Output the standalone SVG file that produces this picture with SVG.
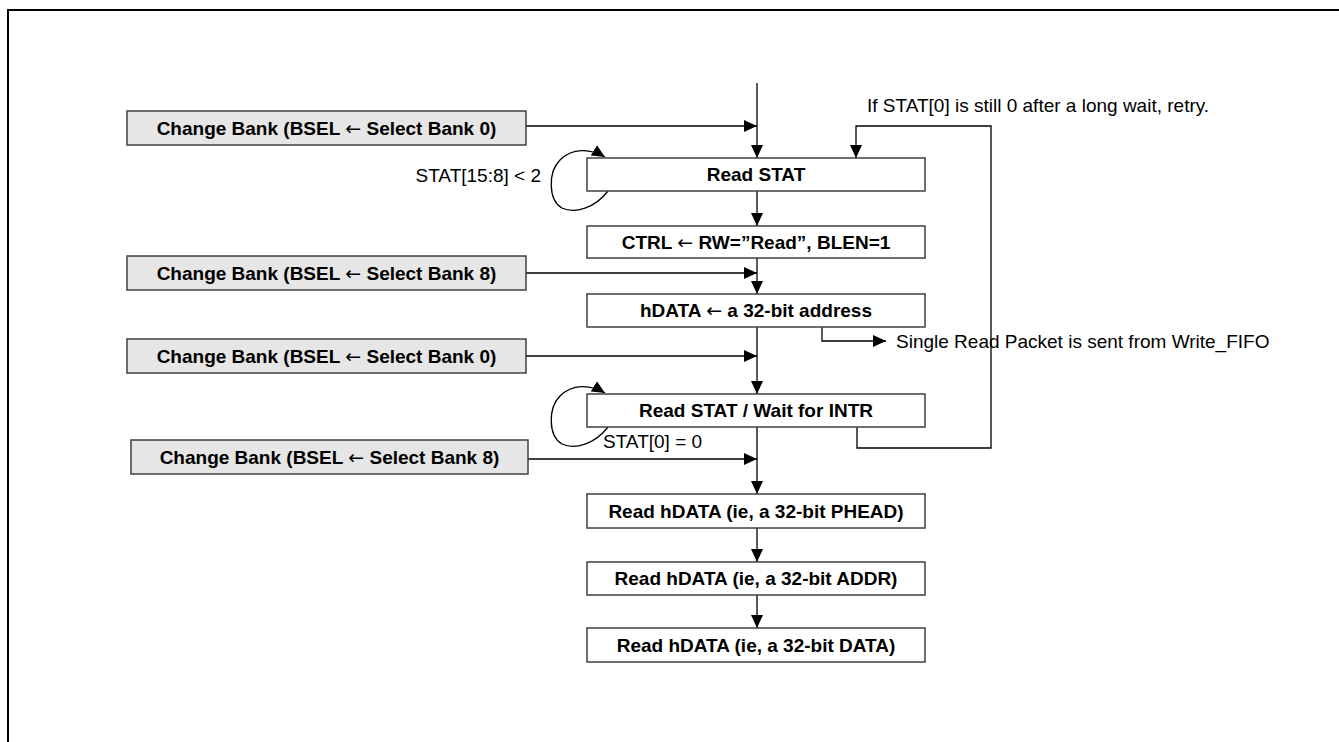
<svg xmlns="http://www.w3.org/2000/svg" width="1339" height="742" viewBox="0 0 1339 742">
<defs>
<marker id="ah" markerUnits="userSpaceOnUse" markerWidth="14" markerHeight="12" refX="13" refY="6" orient="auto"><path d="M0,0 L13,6 L0,12 z" fill="#000"/></marker>
<style>
.bank{fill:#e6e6e6;stroke:#404040;stroke-width:1.5}
.proc{fill:#fff;stroke:#404040;stroke-width:1.5}
.b{font-family:"Liberation Sans",Arial,sans-serif;font-weight:bold;font-size:19px;text-anchor:middle;fill:#000}
.r{font-family:"Liberation Sans",Arial,sans-serif;font-size:19px;fill:#000}
.ar{font-family:"DejaVu Sans",sans-serif;font-weight:normal}
.ca{fill:none;stroke:#000;stroke-width:1.3;marker-end:url(#ah)}
</style>
</defs>
<rect width="1339" height="742" fill="#fff"/>
<path d="M8,742 V10 H1339" fill="none" stroke="#000" stroke-width="2"/>
<g id="connectors">
<path class="ca" d="M757,83 V158"/>
<path class="ca" d="M526,126 H757"/>
<path class="ca" d="M757,191 V226"/>
<path class="ca" d="M757,258 V294"/>
<path class="ca" d="M526,273 H757"/>
<path class="ca" d="M757,327 V394"/>
<path class="ca" d="M526,356 H757"/>
<path class="ca" d="M757,427 V494"/>
<path class="ca" d="M528,459 H757"/>
<path class="ca" d="M757,528 V562"/>
<path class="ca" d="M757,595 V628"/>
<path class="ca" d="M857,427 V448 H991 V126 H856 V158"/>
<path class="ca" d="M822,327 V341 H886"/>
<path class="ca" d="M608,191 C595,208 575,214 562,208 C548,200 548,172 560,160 C572,148 590,148 605,157"/>
<path class="ca" d="M608,427 C595,444 575,450 562,444 C548,436 548,408 560,396 C572,384 590,384 605,393"/>
<text class="r" x="541" y="182" text-anchor="end">STAT[15:8] &lt; 2</text>
<text class="r" x="603" y="448">STAT[0] = 0</text>
<text class="r" x="867" y="112">If STAT[0] is still 0 after a long wait, retry.</text>
<text class="r" x="896" y="348">Single Read Packet is sent from Write_FIFO</text>
</g>
<g id="bank0a"><rect class="bank" x="127" y="111" width="399" height="34"/><text class="b" x="326.5" y="135">Change Bank (BSEL <tspan class="ar">←</tspan> Select Bank 0)</text></g>
<g id="readstat"><rect class="proc" x="587" y="158" width="338" height="33"/><text class="b" x="756" y="181">Read STAT</text></g>
<g id="ctrl"><rect class="proc" x="587" y="226" width="338" height="32"/><text class="b" x="756" y="249">CTRL <tspan class="ar">←</tspan> RW=”Read”, BLEN=1</text></g>
<g id="bank8a"><rect class="bank" x="127" y="256" width="399" height="34"/><text class="b" x="326.5" y="280">Change Bank (BSEL <tspan class="ar">←</tspan> Select Bank 8)</text></g>
<g id="hdata"><rect class="proc" x="587" y="294" width="338" height="33"/><text class="b" x="756" y="317">hDATA <tspan class="ar">←</tspan> a 32-bit address</text></g>
<g id="bank0b"><rect class="bank" x="127" y="339" width="399" height="34"/><text class="b" x="326.5" y="363">Change Bank (BSEL <tspan class="ar">←</tspan> Select Bank 0)</text></g>
<g id="wait"><rect class="proc" x="587" y="394" width="338" height="33"/><text class="b" x="756" y="417">Read STAT / Wait for INTR</text></g>
<g id="bank8b"><rect class="bank" x="131" y="440" width="397" height="34"/><text class="b" x="329.5" y="464">Change Bank (BSEL <tspan class="ar">←</tspan> Select Bank 8)</text></g>
<g id="phead"><rect class="proc" x="587" y="494" width="338" height="34"/><text class="b" x="756" y="518">Read hDATA (ie, a 32-bit PHEAD)</text></g>
<g id="addr"><rect class="proc" x="587" y="562" width="338" height="33"/><text class="b" x="756" y="585">Read hDATA (ie, a 32-bit ADDR)</text></g>
<g id="data"><rect class="proc" x="587" y="628" width="338" height="34"/><text class="b" x="756" y="652">Read hDATA (ie, a 32-bit DATA)</text></g>
</svg>
